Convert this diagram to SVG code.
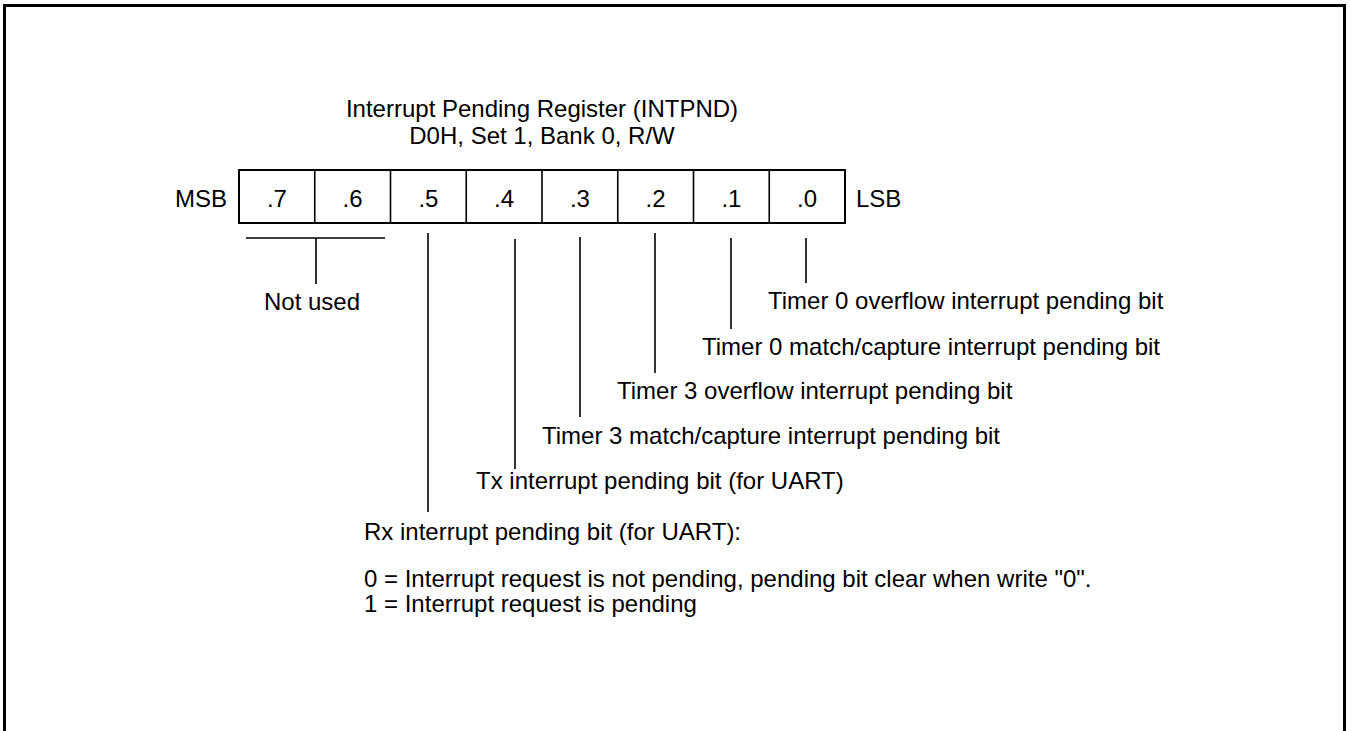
<svg xmlns="http://www.w3.org/2000/svg" width="1351" height="731" viewBox="0 0 1351 731">
<style>
text{font-family:"Liberation Sans",Arial,sans-serif;font-size:24px;fill:#000}
.c{text-anchor:middle}
.e{text-anchor:end}
.ln{stroke:#000;stroke-width:1.6;fill:none}
.bx{stroke:#000;stroke-width:2;fill:#fff}
</style>
<rect width="1351" height="731" fill="#fff"/>
<rect x="4.5" y="5.5" width="1340" height="740" fill="none" stroke="#000" stroke-width="3"/>
<g id="title">
<text class="c" x="542" y="117">Interrupt Pending Register (INTPND)</text>
<text class="c" x="542" y="144">D0H, Set 1, Bank 0, R/W</text>
</g>
<g id="register">
<rect class="bx" x="239" y="170" width="606" height="53"/>
<path class="ln" stroke-width="2" d="M314.75 170V223M390.5 170V223M466.25 170V223M542 170V223M617.75 170V223M693.5 170V223M769.25 170V223"/>
<text class="e" x="227" y="207">MSB</text>
<text x="856" y="207">LSB</text>
<text class="c" x="276.9" y="207">.7</text>
<text class="c" x="352.6" y="207">.6</text>
<text class="c" x="428.4" y="207">.5</text>
<text class="c" x="504.1" y="207">.4</text>
<text class="c" x="579.9" y="207">.3</text>
<text class="c" x="655.6" y="207">.2</text>
<text class="c" x="731.4" y="207">.1</text>
<text class="c" x="807.1" y="207">.0</text>
</g>
<g id="connectors">
<path class="ln" d="M246 238H385M316 238V284"/>
<path class="ln" d="M428 233V512"/>
<path class="ln" d="M515 239V469"/>
<path class="ln" d="M580 237V417"/>
<path class="ln" d="M655 233V373"/>
<path class="ln" d="M731 238V329"/>
<path class="ln" d="M806 238V283"/>
</g>
<g id="labels">
<text class="c" x="312" y="310">Not used</text>
<text x="768" y="309">Timer 0 overflow interrupt pending bit</text>
<text x="702" y="355">Timer 0 match/capture interrupt pending bit</text>
<text x="617" y="399">Timer 3 overflow interrupt pending bit</text>
<text x="542" y="444">Timer 3 match/capture interrupt pending bit</text>
<text x="476" y="489">Tx interrupt pending bit (for UART)</text>
<text x="364" y="540">Rx interrupt pending bit (for UART):</text>
<text x="364" y="587">0 = Interrupt request is not pending, pending bit clear when write "0".</text>
<text x="364" y="612">1 = Interrupt request is pending</text>
</g>
</svg>
